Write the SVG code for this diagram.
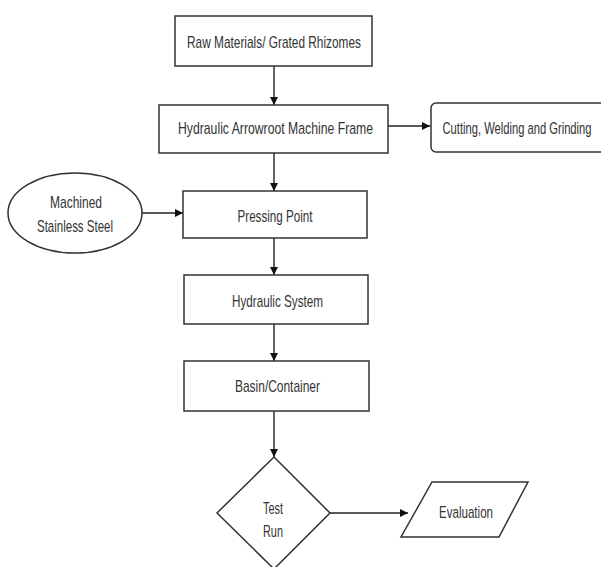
<svg xmlns="http://www.w3.org/2000/svg" width="601" height="567" viewBox="0 0 601 567">
<style>
.n{fill:#fff;stroke:#333;stroke-width:1.5}
.t{font-family:"Liberation Sans Narrow","Liberation Sans",sans-serif;font-size:17px;fill:#333;text-anchor:middle}
.c{stroke:#222;stroke-width:1.4;fill:none;marker-end:url(#ah)}
</style>
<defs>
<marker id="ah" viewBox="0 0 10 10" refX="10" refY="5" markerWidth="8" markerHeight="8" markerUnits="userSpaceOnUse" orient="auto">
<path d="M0,0 L10,5 L0,10 z" fill="#111"/>
</marker>
</defs>
<rect width="601" height="567" fill="#fff"/>
<g id="connectors">
<line class="c" x1="274" y1="66" x2="274" y2="105"/>
<line class="c" x1="388" y1="126" x2="430" y2="126"/>
<line class="c" x1="274" y1="153" x2="274" y2="191"/>
<line class="c" x1="142" y1="213" x2="183" y2="213"/>
<line class="c" x1="274" y1="238" x2="274" y2="275"/>
<line class="c" x1="274" y1="324" x2="274" y2="361"/>
<line class="c" x1="274" y1="411" x2="274" y2="457"/>
<line class="c" x1="330" y1="513" x2="408" y2="513"/>
</g>
<g id="raw">
<rect class="n" x="175" y="16" width="197" height="50"/>
<text class="t" x="274" y="48" textLength="174" lengthAdjust="spacingAndGlyphs">Raw Materials/ Grated Rhizomes</text>
</g>
<g id="frame">
<rect class="n" x="159" y="105" width="229" height="48"/>
<text class="t" x="275.5" y="134" textLength="195" lengthAdjust="spacingAndGlyphs">Hydraulic Arrowroot Machine Frame</text>
</g>
<g id="cutting">
<rect class="n" x="431" y="103" width="176" height="49" rx="5"/>
<text class="t" x="517" y="134" textLength="149" lengthAdjust="spacingAndGlyphs">Cutting, Welding and Grinding</text>
</g>
<g id="steel">
<ellipse class="n" cx="75" cy="213" rx="67" ry="40"/>
<text class="t" x="76" y="208" textLength="52" lengthAdjust="spacingAndGlyphs">Machined</text>
<text class="t" x="75" y="232" textLength="76" lengthAdjust="spacingAndGlyphs">Stainless Steel</text>
</g>
<g id="pressing">
<rect class="n" x="183" y="191" width="184" height="47"/>
<text class="t" x="275" y="222" textLength="75" lengthAdjust="spacingAndGlyphs">Pressing Point</text>
</g>
<g id="hydraulic">
<rect class="n" x="184" y="275" width="184" height="49"/>
<text class="t" x="277.5" y="307" textLength="91" lengthAdjust="spacingAndGlyphs">Hydraulic System</text>
</g>
<g id="basin">
<rect class="n" x="184" y="361" width="185" height="50"/>
<text class="t" x="277.5" y="392" textLength="85" lengthAdjust="spacingAndGlyphs">Basin/Container</text>
</g>
<g id="test">
<polygon class="n" points="274,457 330,513 274,569 217,513"/>
<text class="t" x="273" y="514" textLength="20" lengthAdjust="spacingAndGlyphs">Test</text>
<text class="t" x="273" y="537" textLength="20" lengthAdjust="spacingAndGlyphs">Run</text>
</g>
<g id="evaluation">
<polygon class="n" points="432,482 528,482 499,537 401,537"/>
<text class="t" x="466" y="518" textLength="54" lengthAdjust="spacingAndGlyphs">Evaluation</text>
</g>
</svg>
